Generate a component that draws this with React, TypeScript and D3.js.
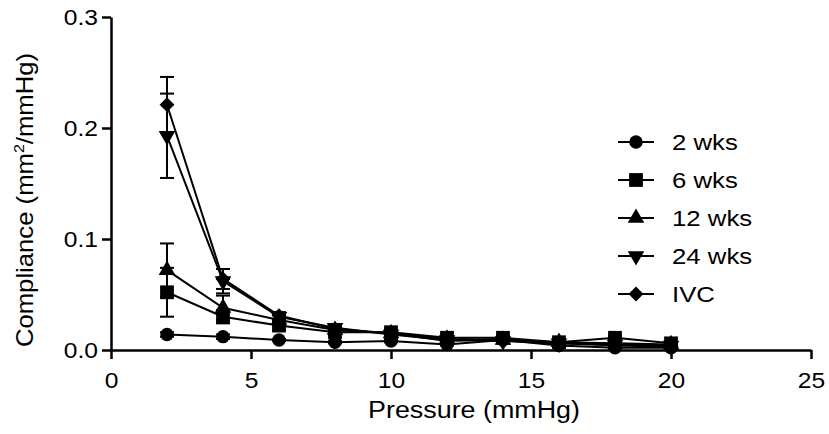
import React, { useEffect, useRef } from "react";
import * as d3 from "d3";

// Pressure (mmHg) at each measurement
const pressure = [2, 4, 6, 8, 10, 12, 14, 16, 18, 20];

// Compliance means (mm2/mmHg) per group
const wks2 = [0.014, 0.012, 0.009, 0.007, 0.008, 0.005, 0.009, 0.004, 0.002, 0.002];
const wks6 = [0.052, 0.030, 0.022, 0.016, 0.016, 0.011, 0.011, 0.007, 0.011, 0.006];
const wks12 = [0.072, 0.038, 0.027, 0.018, 0.015, 0.010, 0.009, 0.007, 0.006, 0.005];
const wks24 = [0.193, 0.062, 0.030, 0.020, 0.014, 0.009, 0.008, 0.006, 0.005, 0.004];
const ivc = [0.221, 0.064, 0.031, 0.019, 0.015, 0.008, 0.010, 0.006, 0.004, 0.003];

// SEM per group
const wks2Err = [0.002, 0.002, 0.001, 0.001, 0.001, 0.001, 0.001, 0.001, 0.001, 0.001];
const wks6Err = [0.022, 0.006, 0.004, 0.003, 0.002, 0.002, 0.002, 0.001, 0.002, 0.001];
const wks12Err = [0.024, 0.011, 0.005, 0.003, 0.002, 0.002, 0.002, 0.001, 0.001, 0.001];
const wks24Err = [0.038, 0.011, 0.004, 0.003, 0.002, 0.002, 0.001, 0.001, 0.001, 0.001];
const ivcErr = [0.025, 0.009, 0.003, 0.002, 0.002, 0.001, 0.001, 0.001, 0.001, 0.001];

const groupNames = ["2 wks", "6 wks", "12 wks", "24 wks", "IVC"];
const xTicks = [0, 5, 10, 15, 20, 25];
const yTicks = [0, 0.1, 0.2, 0.3];

type Series = {
  name: string;
  values: number[];
  err: number[];
  symbol: d3.SymbolType;
  size: number;
  rotate: number;
};

const series: Series[] = [
  { name: groupNames[0], values: wks2, err: wks2Err, symbol: d3.symbolCircle, size: 140, rotate: 0 },
  { name: groupNames[1], values: wks6, err: wks6Err, symbol: d3.symbolSquare, size: 190, rotate: 0 },
  { name: groupNames[2], values: wks12, err: wks12Err, symbol: d3.symbolTriangle, size: 120, rotate: 0 },
  { name: groupNames[3], values: wks24, err: wks24Err, symbol: d3.symbolTriangle, size: 120, rotate: 180 },
  { name: groupNames[4], values: ivc, err: ivcErr, symbol: d3.symbolSquare, size: 110, rotate: 45 },
];

const FONT = "'Liberation Sans', Arial, Helvetica, sans-serif";
const STRETCH = 1.12; // the original lettering runs a bit wider than Arial

export default function App() {
  const svgRef = useRef<SVGSVGElement | null>(null);

  useEffect(() => {
    if (!svgRef.current) return;
    const root = d3.select(svgRef.current);
    root.selectAll("*").remove();

    const x = d3.scaleLinear().domain([0, 25]).range([111, 811]);
    const y = d3.scaleLinear().domain([0, 0.3]).range([350, 17]);

    // Axes
    const xAxis = root.append("g")
      .attr("transform", `translate(0,${y(0)})`)
      .call(d3.axisBottom(x).tickValues(xTicks).tickSize(9).tickSizeOuter(0).tickPadding(13).tickFormat(d3.format("d")));
    const yAxis = root.append("g")
      .attr("transform", `translate(${x(0)},0)`)
      .call(d3.axisLeft(y).tickValues(yTicks).tickSize(9).tickSizeOuter(0).tickPadding(4).tickFormat(d3.format(".1f")));

    [xAxis, yAxis].forEach((g) => {
      g.attr("font-family", FONT).attr("font-size", 22);
      g.select(".domain").attr("stroke", "#000").attr("stroke-width", 2.5);
      g.selectAll(".tick line").attr("stroke", "#000").attr("stroke-width", 2.5);
      g.selectAll(".tick text").attr("fill", "#000").attr("transform", `scale(${STRETCH},1)`);
    });
    yAxis.selectAll(".tick text").attr("x", -13 / STRETCH);

    // Axis titles
    root.append("text")
      .attr("transform", `translate(474,418) scale(${STRETCH},1)`)
      .attr("text-anchor", "middle")
      .attr("font-family", FONT)
      .attr("font-size", 24)
      .text("Pressure (mmHg)");

    const yTitle = root.append("text")
      .attr("transform", "translate(33,200) rotate(-90) scale(1.07,1)")
      .attr("text-anchor", "middle")
      .attr("font-family", FONT)
      .attr("font-size", 24);
    yTitle.append("tspan").text("Compliance (mm");
    yTitle.append("tspan").attr("font-size", 15).attr("dy", -9).text("2");
    yTitle.append("tspan").attr("dy", 9).text("/mmHg)");

    const line = d3.line<number>()
      .x((_, i) => x(pressure[i]))
      .y((d) => y(d));

    const plot = root.append("g");

    // Connecting lines
    series.forEach((s) => {
      plot.append("path")
        .datum(s.values)
        .attr("fill", "none")
        .attr("stroke", "#000")
        .attr("stroke-width", 2)
        .attr("d", line);
    });

    // Error bars
    series.forEach((s) => {
      s.values.forEach((v, i) => {
        const cx = x(pressure[i]);
        const lo = y(v - s.err[i]);
        const hi = y(v + s.err[i]);
        plot.append("line")
          .attr("x1", cx).attr("x2", cx).attr("y1", lo).attr("y2", hi)
          .attr("stroke", "#000").attr("stroke-width", 2);
        [lo, hi].forEach((yy) => {
          plot.append("line")
            .attr("x1", cx - 7).attr("x2", cx + 7).attr("y1", yy).attr("y2", yy)
            .attr("stroke", "#000").attr("stroke-width", 2);
        });
      });
    });

    // Markers
    series.forEach((s) => {
      const sym = d3.symbol().type(s.symbol).size(s.size);
      s.values.forEach((v, i) => {
        plot.append("path")
          .attr("d", sym()!)
          .attr("transform", `translate(${x(pressure[i])},${y(v)}) rotate(${s.rotate})`)
          .attr("fill", "#000");
      });
    });

    // Legend
    const legend = root.append("g");
    const rowY = d3.scalePoint<string>().domain(groupNames).range([142, 294]);
    series.forEach((s) => {
      const ly = rowY(s.name)!;
      legend.append("line")
        .attr("x1", 618).attr("x2", 654).attr("y1", ly).attr("y2", ly)
        .attr("stroke", "#000").attr("stroke-width", 2);
      const sym = d3.symbol().type(s.symbol).size(s.size);
      legend.append("path")
        .attr("d", sym()!)
        .attr("transform", `translate(636,${ly}) rotate(${s.rotate})`)
        .attr("fill", "#000");
      legend.append("text")
        .attr("transform", `translate(672,${ly}) scale(${STRETCH},1)`)
        .attr("dy", "0.36em")
        .attr("font-family", FONT)
        .attr("font-size", 23)
        .text(s.name);
    });
  }, []);

  return (
    <svg
      ref={svgRef}
      width={829}
      height={434}
      style={{ position: "absolute", left: 0, top: 0, background: "#fff" }}
    />
  );
}
